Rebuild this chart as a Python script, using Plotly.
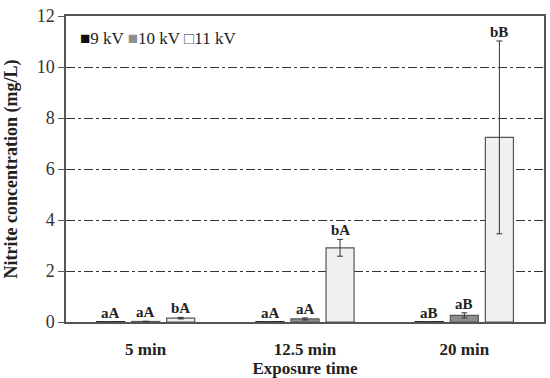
import plotly.graph_objects as go

categories = ["5 min", "12.5 min", "20 min"]
series_names = ["9 kV", "10 kV", "11 kV"]
v9 = [0.01, 0.01, 0.01]
e9 = [0.0, 0.0, 0.0]
v10 = [0.02, 0.12, 0.26]
e10 = [0.01, 0.04, 0.1]
v11 = [0.15, 2.91, 7.24]
e11 = [0.03, 0.33, 3.78]
labels9 = ["aA", "aA", "aB"]
labels10 = ["aA", "aA", "aB"]
labels11 = ["bA", "bA", "bB"]

values = [v9, v10, v11]
errors = [e9, e10, e11]
labels = [labels9, labels10, labels11]
fills = ["#111111", "#8f8f8f", "#f0f0f0"]
lines = ["#111111", "#555555", "#555555"]
legend_glyphs = ["■", "■", "□"]
legend_colors = ["#111111", "#8f8f8f", "#666666"]
shifts = [-35, 0, 35]

FONT = "Liberation Serif"
fig = go.Figure()
for name, v, e, fc, lc in zip(series_names, values, errors, fills, lines):
    fig.add_trace(go.Bar(
        x=categories, y=v, name=name,
        marker=dict(color=fc, line=dict(color=lc, width=1.2)),
        error_y=dict(type="data", array=e, visible=True, color="#333333", thickness=1, width=3),
    ))

for v, e, lab, sh in zip(values, errors, labels, shifts):
    for c, yy, ee, t in zip(categories, v, e, lab):
        fig.add_annotation(x=c, y=yy + ee, text="<b>" + t + "</b>", showarrow=False,
                           xshift=sh, yanchor="bottom", yshift=-1,
                           font=dict(family=FONT, size=15, color="#222222"))

legend_text = " ".join(
    "<span style='color:%s;font-size:17px'>%s</span>%s" % (c, g, n)
    for g, c, n in zip(legend_glyphs, legend_colors, series_names)
)
fig.add_annotation(xref="paper", yref="paper", x=0.026, y=0.928, xanchor="left", yanchor="middle",
                   text=legend_text, showarrow=False,
                   font=dict(family=FONT, size=17, color="#222222"))

fig.update_layout(
    width=550, height=378,
    margin=dict(l=66, r=6, t=16, b=56),
    paper_bgcolor="white", plot_bgcolor="white",
    barmode="group", bargap=0.34, bargroupgap=0.2,
    font=dict(family=FONT, size=17, color="#333333"),
    showlegend=False,
)
fig.update_xaxes(
    automargin=False,
    showline=True, linecolor="#555555", linewidth=1.5, mirror=True,
    ticks="", tickfont=dict(family=FONT, size=17, color="#222222", weight="bold"),
    ticklabelstandoff=11,
    title=dict(text="<b>Exposure time</b>", font=dict(family=FONT, size=17, color="#222222"), standoff=3),
)
fig.update_yaxes(
    automargin=False,
    range=[0, 12], dtick=2, showline=True, linecolor="#555555", linewidth=1.5, mirror=True,
    ticks="outside", ticklen=6, tickcolor="#555555",
    tickfont=dict(family=FONT, size=18, color="#333333"),
    showgrid=True, gridcolor="#333333", gridwidth=1, griddash="dashdot",
    zeroline=False,
    title=dict(text="<b>Nitrite concentration (mg/L)</b>", font=dict(family=FONT, size=18, color="#222222"), standoff=14),
)
fig.write_html("out.html", config={"displayModeBar": False},
               post_script="document.body.style.margin='0';document.body.style.overflow='hidden';")
